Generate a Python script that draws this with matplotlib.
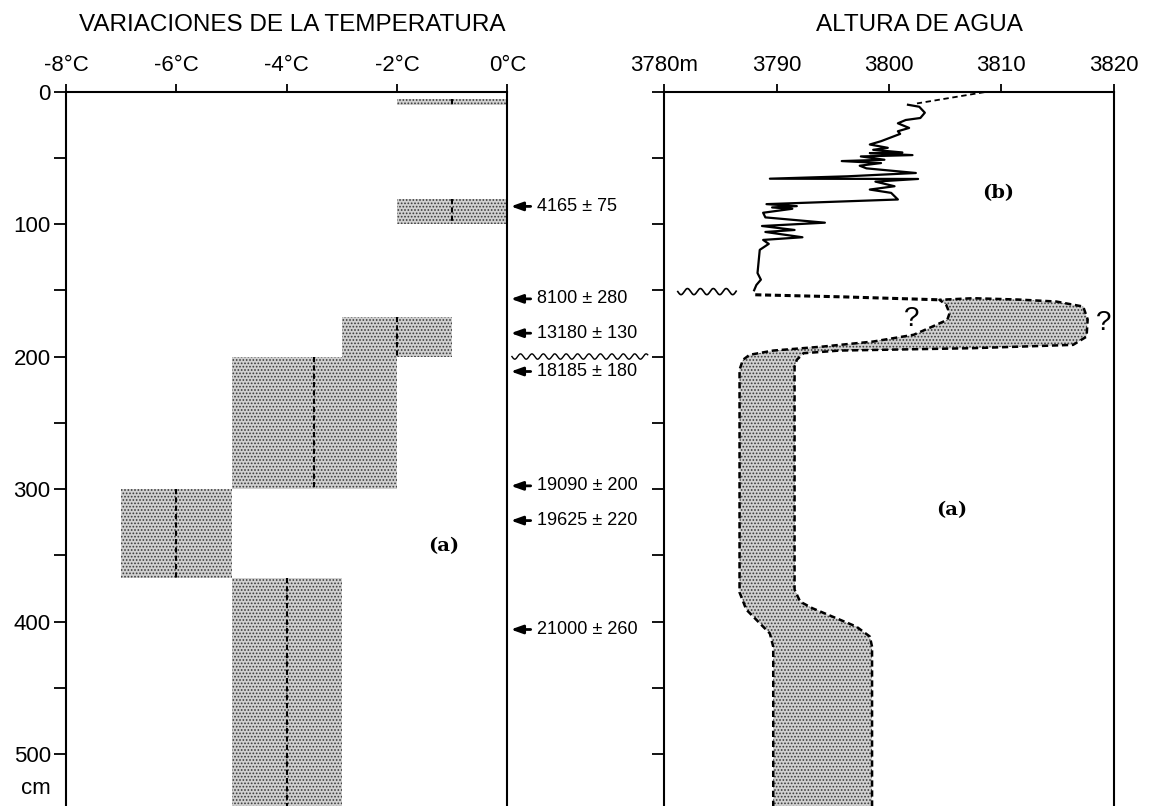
import numpy as np
import matplotlib
matplotlib.use("Agg")
import matplotlib.pyplot as plt

plt.rcParams['font.family'] = ['Liberation Sans', 'DejaVu Sans']
plt.rcParams['hatch.color'] = '#3a3a3a'
plt.rcParams['hatch.linewidth'] = 0.8

# --- panel izquierdo: variaciones de la temperatura (cm de profundidad) ---
temp_top = [6, 81, 170, 200, 300, 367]
temp_bot = [10, 100, 200, 300, 367, 545]
temp_lo = [-2, -2, -3, -5, -7, -5]
temp_hi = [0, 0, -1, -2, -5, -3]
temp_mid = [-1, -1, -2, -3.5, -6, -4]
temp_ticks = [-8, -6, -4, -2, 0]
temp_labels = ['-8°C', '-6°C', '-4°C', '-2°C', '0°C']

# dataciones
dat_prof = [86.7, 156.5, 182.4, 211.3, 297.6, 323.8, 406]
dat_txt = ['4165 ± 75', '8100 ± 280', '13180 ± 130', '18185 ± 180',
           '19090 ± 200', '19625 ± 220', '21000 ± 260']
hiato_prof = 200      # discordancia entre los dos paneles
hiato2_prof = 151     # discordancia en el panel derecho

# --- panel derecho: altura de agua (m) ---
alt_ticks = [3780, 3790, 3800, 3810, 3820]
alt_labels = ['3780m', '3790', '3800', '3810', '3820']

# curva (b)
lvl_x = [3801.7, 3802.7, 3803.2, 3802.8, 3801.5, 3800.8, 3801.8, 3800.8, 3801.0, 3799.3,
         3798.3, 3799.9, 3798.6, 3801.2, 3798.3, 3802.1, 3797.5, 3799.6, 3795.8, 3799.3,
         3797.4, 3798.0, 3802.4, 3796.3, 3789.4, 3802.6, 3798.8, 3800.5, 3798.3, 3800.2,
         3800.8, 3789.1, 3791.8, 3789.6, 3791.4, 3788.8, 3789.0, 3794.3, 3788.7, 3791.6,
         3789.0, 3792.3, 3788.8, 3789.3, 3788.5, 3788.3, 3788.6, 3788.2, 3788.0]
lvl_d = [10, 11.5, 16, 20, 21.5, 24, 27.5, 30, 32, 37.5,
         40, 42.5, 44, 46, 46.5, 48, 49, 51.5, 52.5, 54,
         56, 58, 61.5, 64, 65.8, 66, 68, 71.5, 74, 76.5,
         81.5, 85, 86.5, 87.5, 88.5, 91.5, 95, 99, 101.5, 104.5,
         106, 110, 112, 115, 119.5, 137, 142, 146, 150]
top_x = [3808.5, 3802.5]
top_d = [0.5, 9]

# banda (a)
band_x = [3789.7, 3789.7, 3789.4, 3787.3, 3786.7, 3786.7, 3787.0, 3787.6, 3789.7, 3794.1,
          3798.6, 3802.2, 3803.9, 3805.2, 3805.4, 3805.1, 3804.5, 3807.5, 3811.5, 3814.9,
          3817.3, 3817.7, 3817.6, 3816.4, 3807.5, 3795.6, 3792.4, 3791.8, 3791.6, 3791.6,
          3792.1, 3793.2, 3797.1, 3798.3, 3798.5, 3798.5]
band_d = [545, 419, 409, 391, 378, 210, 202.5, 198.7, 195.5, 192.5,
          188.7, 183.6, 177.3, 172.3, 167.3, 161, 157.2, 156, 157, 158.5,
          162.3, 172, 185, 191.2, 193.7, 195.5, 197.5, 202.5, 207.5, 376,
          385, 390, 403.8, 411.3, 419, 545]
lim_x = [3788.1, 3796, 3804.5]
lim_d = [153.4, 155, 157.2]

W, H = 1151, 806
fig = plt.figure(figsize=(W / 100, H / 100), dpi=100)
ax1 = fig.add_axes([66 / W, 0, (507.5 - 66) / W, (H - 91.5) / H])
ax2 = fig.add_axes([664.3 / W, 0, (1113.5 - 664.3) / W, (H - 91.5) / H])

fill_kw = dict(facecolor='#d0d0d0', hatch='.....', edgecolor='#3a3a3a', linewidth=0)

for ax in (ax1, ax2):
    ax.set_ylim(539.2, 0)
    ax.spines['bottom'].set_visible(False)
    for s in ('top', 'left', 'right'):
        ax.spines[s].set_linewidth(1.5)
    ax.xaxis.tick_top()
    ax.tick_params(axis='x', direction='out', length=6, width=1.3, pad=5, labelsize=16)
    ax.tick_params(axis='y', which='both', direction='out', length=9, width=1.3, pad=2, labelsize=16)

# panel izquierdo
ax1.set_xlim(-8, 0)
ax1.set_xticks(temp_ticks, temp_labels)
ax1.set_yticks([0, 100, 200, 300, 400, 500])
ax1.set_yticks([50, 150, 250, 350, 450], minor=True)
top = np.array(temp_top)
bot = np.array(temp_bot)
lo = np.array(temp_lo)
hi = np.array(temp_hi)
ax1.barh((top + bot) / 2, hi - lo, left=lo, height=bot - top, **fill_kw)
ax1.vlines(temp_mid, top, bot, colors='k', linestyles=(0, (2.5, 1.5)), linewidth=1.5)
ax1.text(-1.15, 343, '(a)', family='DejaVu Serif', fontweight='bold', fontsize=14,
         ha='center', va='center')
fig.text(36 / W, 1 - 788 / H, 'cm', fontsize=16, ha='center', va='center')

# dataciones entre los paneles
for d, t in zip(dat_prof, dat_txt):
    ax1.annotate('', xy=(0.06, d), xytext=(0.42, d), annotation_clip=False,
                 arrowprops=dict(arrowstyle='-|>,head_length=0.7,head_width=0.25',
                                 color='k', lw=2.0, shrinkA=0, shrinkB=0))
    ax1.text(0.53, d, t, fontsize=13, ha='left', va='center')

xw = np.linspace(0.08, 2.54, 300)
ax1.plot(xw, hiato_prof + 2 * np.sin(2 * np.pi * (xw - 0.08) / 0.207), color='k',
         lw=1.0, clip_on=False)

# panel derecho
ax2.set_xlim(3780, 3820)
ax2.set_xticks(alt_ticks, alt_labels)
ax2.set_yticks(list(range(0, 501, 50)))
ax2.set_yticklabels([])
ax2.fill(band_x, band_d, **fill_kw)
ax2.plot(band_x, band_d, color='k', lw=1.8, linestyle=(0, (2.5, 1.5)))
ax2.plot(lim_x, lim_d, color='k', lw=2.2, linestyle=(0, (2, 1.2)))
ax2.plot(lvl_x, lvl_d, color='k', lw=1.6)
ax2.plot(top_x, top_d, color='k', lw=1.3, linestyle=(0, (3, 2)))
xw2 = np.linspace(3781.2, 3786.4, 200)
ax2.plot(xw2, hiato2_prof + 2.3 * np.sin(2 * np.pi * (xw2 - 3781.2) / 1.15), color='k', lw=1.2)
ax2.text(3802.0, 172, '?', fontsize=20, ha='center', va='center')
ax2.text(3819.1, 175, '?', fontsize=20, ha='center', va='center', clip_on=False)
ax2.text(3809.7, 77, '(b)', family='DejaVu Serif', fontweight='bold', fontsize=14,
         ha='center', va='center')
ax2.text(3805.6, 316, '(a)', family='DejaVu Serif', fontweight='bold', fontsize=14,
         ha='center', va='center')

fig.text(292 / W, 1 - 25 / H, 'VARIACIONES DE LA TEMPERATURA', fontsize=17.5,
         ha='center', va='center')
fig.text(919 / W, 1 - 25 / H, 'ALTURA DE AGUA', fontsize=17.5, ha='center', va='center')

fig.savefig('out.png', dpi=100)
